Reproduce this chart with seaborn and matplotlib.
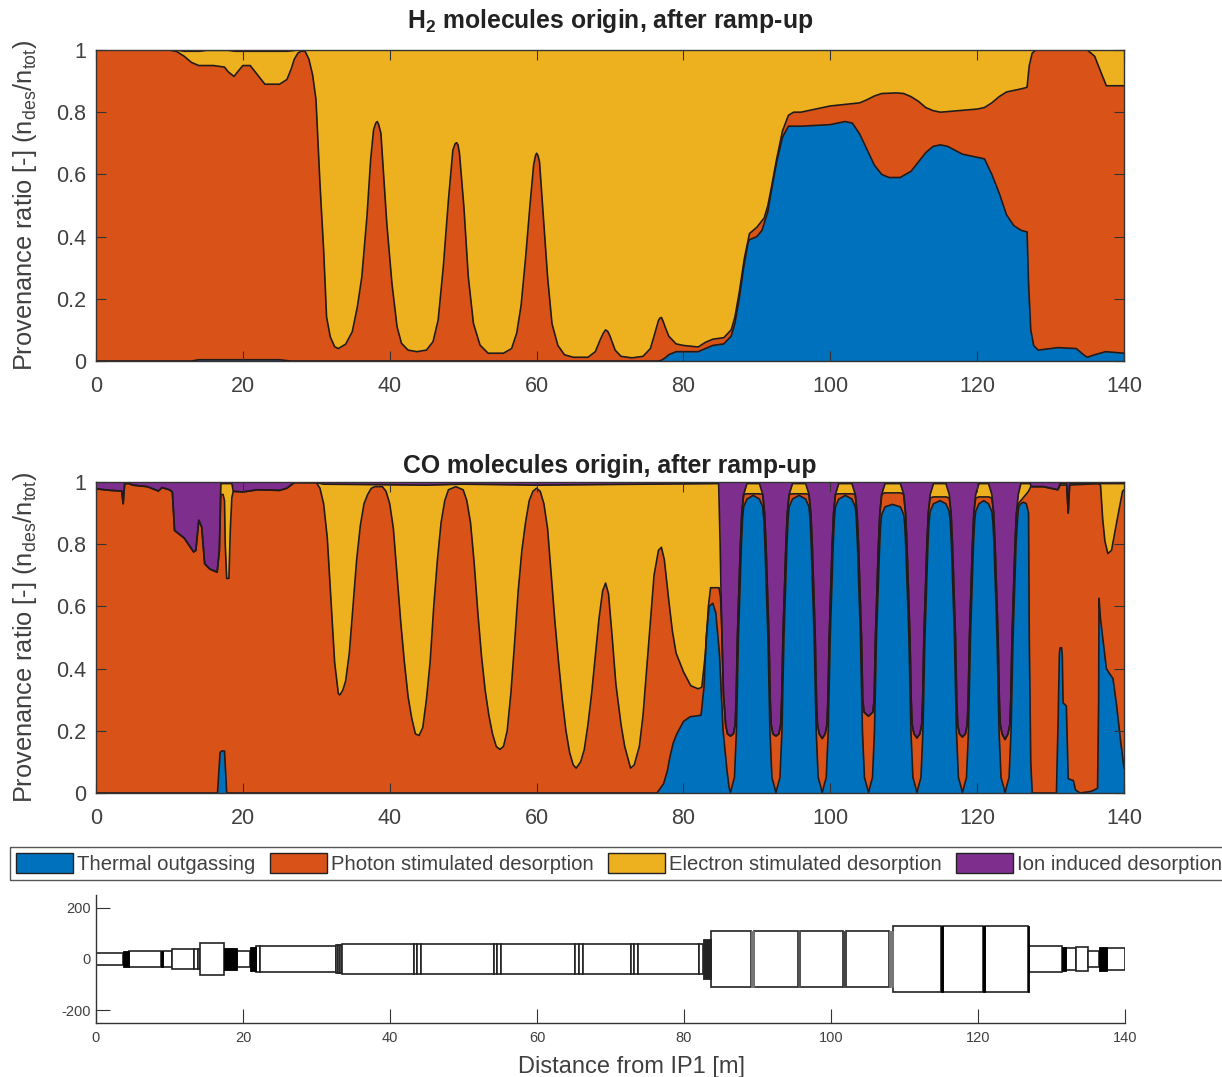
import matplotlib
matplotlib.use("Agg")
import matplotlib.pyplot as plt
from matplotlib.patches import Patch, Rectangle
import numpy as np
import seaborn as sns

# cumulative levels, (distance, level)
h2_blue = [(0,0),(13,0),(14,.004),(25,.004),(26.5,0),(76.5,0),(77,.002),(77.5,.01),(78,.02),(79,.03),(82,.03),(83,.04),(84,.05),(85.5,.055),(86.5,.08),(87,.12),(87.6,.2),(88.2,.3),(88.8,.38),(89,.39),(90,.40),(90.7,.42),(91.5,.48),(92,.55),(92.7,.64),(93.5,.72),(94.3,.755),(96,.755),(100,.76),(102,.77),(103,.765),(104,.73),(105,.68),(106,.63),(107,.6),(108,.59),(109.5,.59),(111,.61),(112,.64),(113,.67),(114,.69),(115,.695),(116,.69),(118,.665),(120,.655),(121,.65),(122,.6),(123,.54),(124,.47),(125,.435),(126,.42),(126.8,.415),(127,.25),(127.3,.1),(127.7,.05),(128.3,.035),(130,.04),(131,.043),(133.5,.04),(134.5,.02),(135,.012),(136,.02),(137.5,.03),(140,.025)]
h2_orange = [(0,1),(10,1),(11,.995),(12,.98),(13,.96),(14,.95),(16,.95),(17.5,.945),(18,.93),(18.8,.915),(19.3,.93),(20,.95),(21,.95),(22,.92),(23,.89),(25,.89),(26,.905),(26.6,.94),(27,.97),(27.5,.99),(28,.997),(28.5,.995),(29,.97),(29.5,.92),(29.96,.84),(30.5,.57),(31,.357),(31.4,.142),(31.9,.078),(32.5,.046),(33,.04),(34,.054),(34.9,.094),(35.6,.175),(36.2,.27),(36.9,.464),(37.4,.646),(37.8,.743),(38.1,.765),(38.3,.77),(38.5,.76),(38.8,.732),(39.1,.625),(39.6,.443),(40.3,.25),(41,.11),(41.6,.057),(42.5,.035),(43.7,.03),(45,.035),(45.9,.062),(46.6,.132),(47.3,.303),(48,.518),(48.6,.678),(48.9,.698),(49.1,.702),(49.3,.695),(49.5,.668),(50.1,.496),(50.7,.271),(51.4,.121),(52.3,.051),(53.4,.025),(55.5,.025),(56.6,.04),(57.3,.09),(57.9,.18),(58.5,.33),(59.1,.5),(59.6,.63),(59.85,.66),(60,.668),(60.2,.66),(60.4,.64),(60.9,.47),(61.5,.27),(62.1,.12),(62.9,.05),(63.8,.02),(65,.012),(67,.012),(68,.03),(68.7,.07),(69.1,.09),(69.4,.1),(69.7,.095),(70,.08),(70.7,.035),(71.5,.015),(73,.01),(74.5,.015),(75.5,.04),(76,.08),(76.6,.13),(76.8,.138),(77,.14),(77.2,.13),(77.5,.11),(78,.08),(79,.055),(80,.05),(82,.045),(83,.06),(84,.07),(85.5,.075),(86.5,.1),(87,.14),(87.6,.22),(88.3,.33),(89,.41),(90,.43),(91,.46),(91.5,.5),(92,.56),(92.7,.65),(93.5,.74),(94.3,.79),(95,.8),(96,.80),(98,.81),(100,.82),(102,.825),(104,.83),(105,.84),(106,.852),(107,.86),(109,.862),(110,.86),(111,.85),(112,.835),(113,.815),(114,.805),(115,.80),(120,.81),(121,.815),(122,.83),(123,.85),(124,.865),(126,.875),(126.8,.88),(127.1,.95),(127.5,.99),(128,1),(135,1),(136,.98),(137,.92),(137.6,.885),(140,.885)]
h2_yellow = [(0,1),(11,1),(12,.996),(14,.996),(15,.999),(18,.999),(19,.996),(26,.996),(27.5,1),(140,1)]

co_blue = [(0,0),(16.55,0),(16.9,.13),(17.1,.135),(17.5,.135),(17.8,0),(76.4,0),(77.3,.03),(77.8,.07),(78.2,.12),(78.6,.16),(79.1,.19),(80,.23),(80.9,.245),(82.4,.25),(82.8,.34),(83.1,.5),(83.5,.6),(84,.61),(84.4,.58),(84.9,.45),(85.4,.2),(85.9,.08),(86.2,.02),(86.4,0),
           (86.6,.02),(86.95,.05),(87.22,.2),(87.49,.5),(87.9,.8),(88.05,.88),(88.2,.92),(88.65,.945),(89.5,.957),
           (90.35,.945),(90.8,.92),(90.95,.88),(91.1,.8),(91.51,.5),(91.78,.2),(92.05,.05),(92.4,.02),(92.6,0),
           (92.8,.02),(93.15,.05),(93.42,.2),(93.69,.5),(94.1,.8),(94.25,.88),(94.4,.92),(94.85,.945),(95.75,.957),
           (96.65,.945),(97.1,.92),(97.25,.88),(97.4,.8),(97.81,.5),(98.08,.2),(98.35,.05),(98.7,.02),(98.9,0),
           (99.1,.02),(99.45,.05),(99.72,.2),(99.99,.5),(100.4,.8),(100.55,.88),(100.7,.92),(101.15,.945),(102.05,.957),
           (102.95,.945),(103.4,.92),(103.55,.88),(103.7,.8),(104.11,.5),(104.38,.2),(104.65,.05),(105,.02),(105.2,0),
           (105.4,.02),(105.75,.05),(106.02,.2),(106.29,.5),(106.7,.78),(106.85,.86),(107,.895),(107.45,.92),(108.45,.928),
           (109.55,.92),(110,.895),(110.15,.86),(110.3,.78),(110.71,.5),(110.98,.2),(111.25,.05),(111.6,.02),(111.8,0),
           (112,.02),(112.35,.05),(112.62,.2),(112.89,.5),(113.3,.8),(113.45,.87),(113.6,.905),(114.05,.93),(114.95,.94),
           (115.75,.93),(116.2,.905),(116.35,.87),(116.5,.8),(116.91,.5),(117.18,.2),(117.45,.05),(117.8,.02),(118,0),
           (118.2,.02),(118.55,.05),(118.82,.2),(119.09,.5),(119.5,.8),(119.65,.87),(119.8,.905),(120.25,.93),(120.9,.94),
           (121.55,.93),(122,.905),(122.15,.87),(122.3,.8),(122.71,.5),(122.98,.2),(123.25,.05),(123.6,.02),(123.8,0),
           (124,.02),(124.35,.05),(124.62,.2),(124.89,.5),(125.3,.8),(125.5,.88),(125.65,.92),(125.95,.93),(126.3,.935),(126.7,.93),(127,.9),(127.1,.5),(127.3,.1),(127.5,0),
           (130.8,0),(131.05,.26),(131.2,.45),(131.3,.467),(131.5,.467),(131.6,.44),(131.7,.29),(132.15,.28),(132.4,.046),(133.1,.04),(133.4,.01),(134,0),(135.5,.005),(136.4,.015),(136.55,.3),(136.6,.626),(136.8,.56),(137.6,.4),(138,.385),(138.5,.368),(139,.28),(139.5,.175),(140,.08)]
co_orange = [(0,.978),(2,.973),(3.5,.971),(3.7,.93),(3.9,.995),(4.5,.995),(5,.99),(7,.985),(8.5,.971),(9,.982),(10,.975),(10.4,.968),(10.7,.844),(12,.82),(13.3,.775),(13.6,.78),(14,.877),(14.4,.855),(14.8,.737),(15.5,.72),(16.5,.71),(16.8,.78),(17,.96),(17.3,.96),(17.5,.94),(17.6,.8),(17.8,.69),(18.1,.69),(18.3,.85),(18.5,.95),(18.7,.97),(20,.968),(22,.975),(25,.973),(26,.98),(27,.998),(30,.998),
             (30.5,.98),(31,.93),(31.5,.82),(32,.62),(32.5,.42),(33,.32),(33.2,.315),(33.6,.33),(34,.36),(34.5,.45),(35,.6),(35.5,.75),(36,.86),(36.5,.93),(37,.96),(37.5,.98),(38,.985),(39,.985),(39.5,.97),(40,.93),(40.5,.85),(41,.7),(41.5,.55),(42,.42),(42.5,.31),(43,.24),(43.5,.19),(44,.185),(44.5,.21),(45,.3),(45.5,.42),(46,.6),(46.5,.75),(47,.87),(47.5,.94),(48,.975),(49,.985),(50,.975),(50.5,.94),(51,.87),(51.5,.74),(52,.58),(52.5,.44),(53,.33),(53.5,.25),(54,.19),(54.5,.15),(55,.14),(55.5,.15),(56,.2),(56.5,.32),(57,.48),(57.5,.65),(58,.78),(58.5,.87),(59,.94),(59.5,.97),(60,.98),(60.5,.97),(61,.93),(61.5,.85),(62,.7),(62.5,.55),(63,.42),(63.5,.3),(64,.2),(64.5,.13),(65,.09),(65.4,.08),(66,.1),(66.5,.14),(67,.22),(67.5,.32),(68,.44),(68.5,.56),(69,.65),(69.4,.675),(69.8,.64),(70.3,.5),(70.8,.35),(71.5,.22),(72,.15),(72.8,.08),(73.3,.09),(74,.15),(74.5,.25),(75,.4),(75.5,.55),(76,.7),(76.6,.78),(77,.79),(77.4,.75),(78,.62),(78.5,.52),(79,.45),(80,.39),(81,.345),(82,.335),(82.5,.34),(83,.45),(83.4,.6),(83.7,.66),(84.85,.66),(85.05,.63),(85.2,.55),
             (85.45,.32),(85.75,.22),(86,.19),(86.4,.183),(86.8,.19),(87.05,.22),(87.18,.3),(87.35,.5),(87.76,.8),(87.95,.9),(88.2,.96),(88.6,.962),(90.4,.962),(90.8,.96),
             (91.05,.9),(91.24,.8),(91.65,.5),(91.82,.3),(91.95,.22),(92.2,.19),(92.6,.183),(93,.19),(93.25,.22),(93.38,.3),(93.55,.5),(93.96,.8),(94.15,.9),(94.4,.96),(94.8,.962),(96.7,.962),(97.1,.96),
             (97.35,.9),(97.54,.8),(97.95,.5),(98.12,.3),(98.25,.22),(98.5,.19),(98.9,.175),(99.3,.19),(99.55,.22),(99.68,.3),(99.85,.5),(100.26,.8),(100.45,.9),(100.7,.96),(101.1,.962),(103,.962),(103.4,.96),
             (103.65,.9),(103.84,.8),(104.25,.5),(104.42,.3),(104.6,.26),(105.2,.247),(105.8,.26),(105.98,.3),(106.15,.5),(106.56,.8),(106.75,.9),(107,.96),(107.4,.965),(109.6,.965),(110,.96),
             (110.25,.9),(110.44,.8),(110.85,.5),(111.02,.3),(111.15,.22),(111.4,.19),(111.8,.177),(112.2,.19),(112.45,.22),(112.58,.3),(112.75,.5),(113.16,.8),(113.35,.9),(113.6,.948),(114,.952),(115.8,.952),(116.2,.948),
             (116.45,.9),(116.64,.8),(117.05,.5),(117.22,.3),(117.35,.22),(117.6,.19),(118,.18),(118.4,.19),(118.65,.22),(118.78,.3),(118.95,.5),(119.36,.8),(119.55,.9),(119.8,.948),(120.2,.952),(121.6,.952),(122,.948),
             (122.25,.9),(122.44,.8),(122.85,.5),(123.02,.3),(123.15,.22),(123.4,.19),(123.8,.172),(124.2,.19),(124.45,.22),(124.58,.3),(124.75,.5),(125.16,.8),(125.35,.9),(125.6,.93),(126.3,.95),(127,.97),(127.3,.985),
             (129,.985),(131,.975),(131.3,.99),(132.2,.99),(132.4,.9),(132.6,.99),(136.5,.995),(136.8,.99),(137.1,.88),(137.4,.81),(137.8,.77),(138.3,.78),(139,.87),(139.8,.97),(140,.975)]
co_yellow = [(0,.978),(2,.973),(3.5,.971),(3.7,.93),(3.9,.995),(4.5,.995),(5,.99),(7,.985),(8.5,.971),(9,.982),(10,.975),(10.4,.968),(10.7,.844),(12,.82),(13.3,.775),(13.6,.78),(14,.877),(14.4,.855),(14.8,.737),(15.5,.72),(16.5,.71),(16.8,.78),(17,.995),(18.5,.995),(18.7,.97),(20,.968),(22,.975),(25,.973),(26,.98),(27,.998),(30,.998),(31,.993),(45,.99),(50,.993),(60,.99),(70,.992),(84.8,.995),
             (85,.8),(85.2,.55),(85.45,.32),(85.75,.22),(86,.19),(86.4,.183),(86.8,.19),(87.05,.22),(87.18,.3),(87.35,.5),(87.76,.8),(87.95,.9),(88.2,.96),(88.65,.995),
             (90.35,.995),(90.8,.96),(91.05,.9),(91.24,.8),(91.65,.5),(91.82,.3),(91.95,.22),(92.2,.19),(92.6,.183),(93,.19),(93.25,.22),(93.38,.3),(93.55,.5),(93.96,.8),(94.15,.9),(94.4,.96),(94.85,.995),
             (96.65,.995),(97.1,.96),(97.35,.9),(97.54,.8),(97.95,.5),(98.12,.3),(98.25,.22),(98.5,.19),(98.9,.175),(99.3,.19),(99.55,.22),(99.68,.3),(99.85,.5),(100.26,.8),(100.45,.9),(100.7,.96),(101.15,.995),
             (102.95,.995),(103.4,.96),(103.65,.9),(103.84,.8),(104.25,.5),(104.42,.3),(104.6,.26),(105.2,.247),(105.8,.26),(105.98,.3),(106.15,.5),(106.56,.8),(106.75,.9),(107,.96),(107.45,.995),
             (109.55,.995),(110,.96),(110.25,.9),(110.44,.8),(110.85,.5),(111.02,.3),(111.15,.22),(111.4,.19),(111.8,.177),(112.2,.19),(112.45,.22),(112.58,.3),(112.75,.5),(113.16,.8),(113.35,.9),(113.6,.96),(114.05,.995),
             (115.75,.995),(116.2,.96),(116.45,.9),(116.64,.8),(117.05,.5),(117.22,.3),(117.35,.22),(117.6,.19),(118,.18),(118.4,.19),(118.65,.22),(118.78,.3),(118.95,.5),(119.36,.8),(119.55,.9),(119.8,.96),(120.25,.995),
             (121.55,.995),(122,.96),(122.25,.9),(122.44,.8),(122.85,.5),(123.02,.3),(123.15,.22),(123.4,.19),(123.8,.172),(124.2,.19),(124.45,.22),(124.58,.3),(124.75,.5),(125.16,.8),(125.35,.9),(125.6,.96),(125.95,.995),
             (127.2,.995),(127.4,.985),(129,.985),(131,.975),(131.3,.995),(132.2,.995),(132.4,.9),(132.6,.995),(140,.995)]
total_level = [(0,1),(140,1)]

# beam screen sections: start, end, half aperture
sec_start = [0,4.5,9.05,10.4,13.3,13.9,14.2,19.2,21.8,22.3,32.6,32.9,33.2,33.5,43.3,43.7,44.2,54.2,54.6,55.1,65.2,65.7,66.3,72.8,73.2,73.7,82.1,83.7,89.5,95.8,102.1,108.5,115.3,121,127,132,133.3,135,137.6]
sec_end = [3.7,8.9,10.4,13.3,13.9,14.2,17.4,21,22.3,32.6,32.9,33.2,33.5,43.3,43.7,44.2,54.2,54.6,55.1,65.2,65.7,66.3,72.8,73.2,73.7,82.1,82.6,89.1,95.5,101.6,107.9,115,120.7,126.8,131.4,133.3,135,136.5,140]
sec_half = [24,30,30,41,41,41,61,33,50,52,55,55,55,60,60,60,60,60,60,60,60,60,60,60,60,60,60,110,110,110,110,128,128,128,50,42,48,31,44]
# parts so dense that they print solid
dense_start = [3.7,8.9,17.4,21,82.6,89.1,95.5,101.6,107.9,115,120.7,126.8,131.4,136.5]
dense_end = [4.5,9.05,19.2,21.8,83.7,89.5,95.8,102.1,108.5,115.3,121,127,132,137.6]
dense_half = [30,30,42,47,78,110,110,110,110,128,128,128,48,48]
dense_colors = ["black","black","black","black","#222222","#777777","#555555","#444444","#777777","black","black","black","black","black"]

series_names = ["Thermal outgassing", "Photon stimulated desorption", "Electron stimulated desorption", "Ion induced desorption"]
series_colors = ["#0072BD", "#D95319", "#EDB120", "#7E2F8E"]
x_ticks = [0, 20, 40, 60, 80, 100, 120, 140]
ratio_ticks = [0, .2, .4, .6, .8, 1]
ratio_labels = ["0", "0.2", "0.4", "0.6", "0.8", "1"]
aperture_ticks = [-200, 0, 200]

W, H = 1222, 1077
TEXT = "#404040"
EDGE = "#231a1a"

sns.set_theme(style="white")
plt.rcParams["font.family"] = ["Liberation Sans", "DejaVu Sans"]
plt.rcParams["mathtext.fontset"] = "custom"
plt.rcParams["mathtext.rm"] = "Liberation Sans"
plt.rcParams["mathtext.bf"] = "Liberation Sans:bold"
plt.rcParams["mathtext.default"] = "regular"
plt.rcParams["axes.unicode_minus"] = False

fig = plt.figure(figsize=(W / 100, H / 100), dpi=100)


def box(left, top, right, bottom):
    return [left / W, 1 - bottom / H, (right - left) / W, (bottom - top) / H]


def stacked_panel(rect, levels, title, title_pad):
    ax = fig.add_axes(rect)
    # painted back to front, every level goes down to zero
    for level, color in zip(levels[::-1], series_colors[::-1]):
        x, y = np.array(level).T
        ax.fill_between(x, 0, y, color=color, linewidth=0)
        sns.lineplot(x=x, y=y, color=EDGE, linewidth=1.2, estimator=None, sort=False, ax=ax)
    ax.set_xlim(0, 140)
    ax.set_ylim(0, 1)
    ax.set_xticks(x_ticks)
    ax.set_yticks(ratio_ticks, ratio_labels)
    ax.set_axisbelow(False)
    ax.tick_params(direction="in", length=7, width=0.8, color="#333333", labelcolor=TEXT,
                   labelsize=15.5, top=True, right=True, left=True, bottom=True)
    ax.tick_params(axis="x", pad=11)
    ax.tick_params(axis="y", pad=7)
    ax.set_ylabel(r"Provenance ratio [-] (n$_{des}$/n$_{tot}$)", fontsize=18.3, color=TEXT, labelpad=12)
    ax.set_title(title, fontsize=17.8, fontweight="bold", color="#222222", pad=title_pad)
    for spine in ax.spines.values():
        spine.set_color("#333333")
        spine.set_linewidth(1)
    return ax


stacked_panel(box(96, 50, 1124, 361), [h2_blue, h2_orange, h2_yellow, total_level],
              r"H$_{\mathbf{2}}$ molecules origin, after ramp-up", 16)
stacked_panel(box(96, 482, 1124, 793), [co_blue, co_orange, co_yellow, total_level],
              "CO molecules origin, after ramp-up", 6.5)

handles = [Patch(facecolor=c, edgecolor="#222222", linewidth=1) for c in series_colors]
fig.legend(handles, series_names, loc="upper left", bbox_to_anchor=(10 / W, 1 - 847 / H),
           ncol=4, fontsize=14.6, frameon=True, fancybox=False, edgecolor="#555555", framealpha=1,
           borderaxespad=0, borderpad=0.3, handlelength=2.8, handleheight=1.1, handletextpad=0.2,
           columnspacing=0.72, labelcolor=TEXT)

ax3 = fig.add_axes(box(96, 895, 1125, 1023))
for start, end, half in zip(sec_start, sec_end, sec_half):
    ax3.add_patch(Rectangle((start, -half), end - start, 2 * half, facecolor="white",
                            edgecolor="#222222", linewidth=1.2))
for start, end, half, color in zip(dense_start, dense_end, dense_half, dense_colors):
    ax3.add_patch(Rectangle((start, -half), end - start, 2 * half, facecolor=color,
                            edgecolor=color, linewidth=0.6))
ax3.set_xlim(0, 140)
ax3.set_ylim(-250, 250)
ax3.set_xticks(x_ticks)
ax3.set_yticks(aperture_ticks)
ax3.tick_params(direction="in", length=10, width=0.8, color="#333333", labelcolor=TEXT,
                labelsize=10.5, left=True, bottom=True)
ax3.tick_params(axis="x", pad=6)
ax3.tick_params(axis="y", pad=4)
ax3.set_xlabel("Distance from IP1 [m]", fontsize=17, color=TEXT)
ax3.xaxis.set_label_coords(0.52, -0.255)
sns.despine(ax=ax3)
for side in ("left", "bottom"):
    ax3.spines[side].set_color("#333333")
    ax3.spines[side].set_linewidth(1)

fig.savefig("out.png", dpi=100, facecolor="white")
